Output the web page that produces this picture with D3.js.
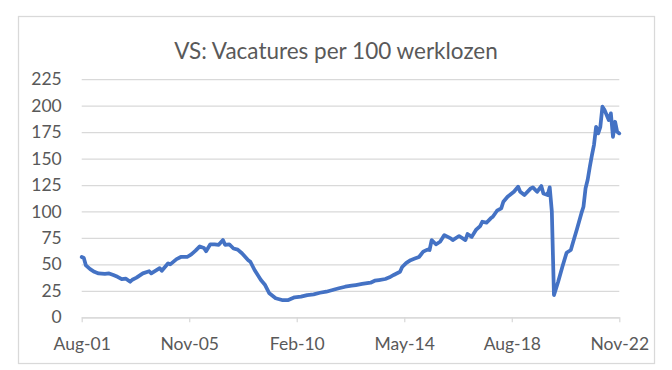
<!DOCTYPE html>
<html>
<head>
<meta charset="utf-8">
<script src="https://cdn.jsdelivr.net/npm/d3@7"></script>
<style>
  body { margin: 0; background: #ffffff; }
  text { font-family: Lato, "Open Sans", sans-serif; fill: #595959; }
</style>
</head>
<body>
<svg></svg>
<script>
var svg_width = 672;
var svg_height = 370;

var chart_title = "VS: Vacatures per 100 werklozen";

// monthly readings, Aug-01 .. Nov-22
var months = [
  "2001-08","2001-09","2001-10","2001-12","2002-02","2002-04","2002-07","2002-09","2002-11","2003-01",
  "2003-03","2003-05","2003-07","2003-08","2003-10","2004-01","2004-04","2004-05","2004-09","2004-10",
  "2005-01","2005-02","2005-05","2005-07","2005-10","2005-12","2006-02","2006-04","2006-06","2006-07",
  "2006-09","2006-11","2007-01","2007-03","2007-04","2007-06","2007-08","2007-10","2007-12","2008-03",
  "2008-04","2008-06","2008-09","2008-11","2009-01","2009-04","2009-07","2009-10","2010-01","2010-04",
  "2010-07","2010-10","2011-01","2011-04","2011-07","2011-10","2012-01","2012-04","2012-06","2012-09",
  "2013-01","2013-03","2013-05","2013-08","2013-10","2013-12","2014-03","2014-04","2014-06","2014-08",
  "2014-10","2014-12","2015-02","2015-04","2015-05","2015-06","2015-08","2015-10","2015-12","2016-03",
  "2016-04","2016-07","2016-10","2016-11","2017-01","2017-03","2017-05","2017-06","2017-08","2017-10",
  "2017-11","2018-01","2018-03","2018-04","2018-06","2018-09","2018-11","2018-12","2019-02","2019-05",
  "2019-06","2019-08","2019-10","2019-11","2020-01","2020-02","2020-03","2020-04","2020-06","2020-08",
  "2020-10","2020-12","2021-01","2021-03","2021-05","2021-06","2021-07","2021-08","2021-09","2021-10",
  "2021-11","2021-12","2022-01","2022-02","2022-03","2022-04","2022-06","2022-07","2022-08","2022-09",
  "2022-10","2022-11"
];

var values = [
  57, 56, 49, 45.5, 43, 41.5, 41, 41.5, 40, 38.3,
  36, 36.5, 33.6, 35.5, 37.5, 41.5, 43.5, 41.5, 46.5, 44,
  51, 50, 55, 57, 57, 59.5, 63, 67, 65.5, 62.5,
  69, 69, 68.5, 73, 68.5, 69, 65, 64, 60.5, 54,
  52.5, 44.7, 35.2, 30.5, 22.7, 18, 16.3, 16.3, 18.9, 19.5,
  21, 21.7, 23.2, 24.2, 25.8, 27.4, 28.9, 29.9, 30.5, 31.5,
  32.7, 34.6, 35.2, 36.2, 37.8, 40, 43, 47.5, 51.5, 54,
  55.5, 57, 62, 64, 63.6, 73, 69, 71.4, 77.7, 74.6,
  73, 76.8, 73, 78.7, 76, 82.5, 86.2, 90.3, 89.4, 93.5,
  95, 100.7, 103, 109.2, 113.9, 118.6, 123.4, 118.6, 115.5, 121.8,
  122.8, 118.6, 124, 117, 115.5, 122.8, 100, 21, 33.6, 47.8,
  61, 63.6, 70.5, 84, 98.2, 104.5, 122, 130, 142, 153,
  163, 180, 173.8, 180, 199, 195.8, 186.4, 192.7, 170.6, 184.8,
  175.3, 173.8
];

var tick_labels = ["Aug-01", "Nov-05", "Feb-10", "May-14", "Aug-18", "Nov-22"];
var y_ticks = [0, 25, 50, 75, 100, 125, 150, 175, 200, 225];

var margin = {top: 79.2, right: 52.7, bottom: 52.7, left: 81.7};
var plot_width = svg_width - margin.left - margin.right;
var plot_height = svg_height - margin.top - margin.bottom;

// month count since Aug-01, so the x axis behaves like excel's category axis
var parse_label = d3.timeParse("%b-%y");
var parse_month = d3.timeParse("%Y-%m");
var start_date = parse_month(months[0]);
function month_index(date)  {
  return((date.getFullYear() - start_date.getFullYear()) * 12 + date.getMonth() - start_date.getMonth());
}

var series = months.map(function(m, i)  {
  return({'index': month_index(parse_month(m)), 'value': values[i]});
});
var tick_index = tick_labels.map(function(l)  {return(month_index(parse_label(l)));});

var xScale = d3.scaleLinear()
  .domain([tick_index[0], tick_index[tick_index.length - 1]])
  .range([0, plot_width]);
var yScale = d3.scaleLinear()
  .domain([0, 225])
  .range([plot_height, 0]);

var svg = d3.select('svg')
  .attr('width', svg_width)
  .attr('height', svg_height);

// chart area border
svg.append('rect')
  .attr('x', 18.5)
  .attr('y', 16.5)
  .attr('width', 636)
  .attr('height', 347)
  .attr('fill', 'none')
  .attr('stroke', '#d9d9d9')
  .attr('stroke-width', 1.25);

svg.append('text')
  .attr('x', 336)
  .attr('y', 59)
  .attr('text-anchor', 'middle')
  .style('font-size', '22.5px')
  .text(chart_title);

var g = svg.append('g')
  .attr('transform', 'translate(' + margin.left + ',' + margin.top + ')');

// y axis with gridlines
var y_axis = g.append('g')
  .call(d3.axisLeft(yScale).tickValues(y_ticks).tickSize(-plot_width).tickPadding(20));
y_axis.select('.domain').remove();
y_axis.selectAll('.tick line')
  .attr('stroke', '#d9d9d9')
  .attr('stroke-width', 1.25);
y_axis.selectAll('.tick text')
  .style('font-size', '17.5px')
  .style('font-family', 'Lato, "Open Sans", sans-serif')
  .attr('fill', '#595959');

// x axis
var x_axis = g.append('g')
  .attr('transform', 'translate(0,' + plot_height + ')')
  .call(d3.axisBottom(xScale)
    .tickValues(tick_index)
    .tickFormat(function(d, i)  {return(tick_labels[i]);})
    .tickSize(5)
    .tickSizeOuter(0)
    .tickPadding(15));
x_axis.select('.domain')
  .attr('stroke', '#d9d9d9')
  .attr('stroke-width', 1.25);
x_axis.selectAll('.tick line')
  .attr('stroke', '#d9d9d9')
  .attr('stroke-width', 1.25);
x_axis.selectAll('.tick text')
  .style('font-size', '17.5px')
  .style('font-family', 'Lato, "Open Sans", sans-serif')
  .attr('fill', '#595959');

var line = d3.line()
  .x(function(d)  {return(xScale(d['index']));})
  .y(function(d)  {return(yScale(d['value']));});

g.append('path')
  .datum(series)
  .attr('d', line)
  .attr('fill', 'none')
  .attr('stroke', '#4472c4')
  .attr('stroke-width', 3.75)
  .attr('stroke-linejoin', 'round')
  .attr('stroke-linecap', 'round');
</script>
</body>
</html>
